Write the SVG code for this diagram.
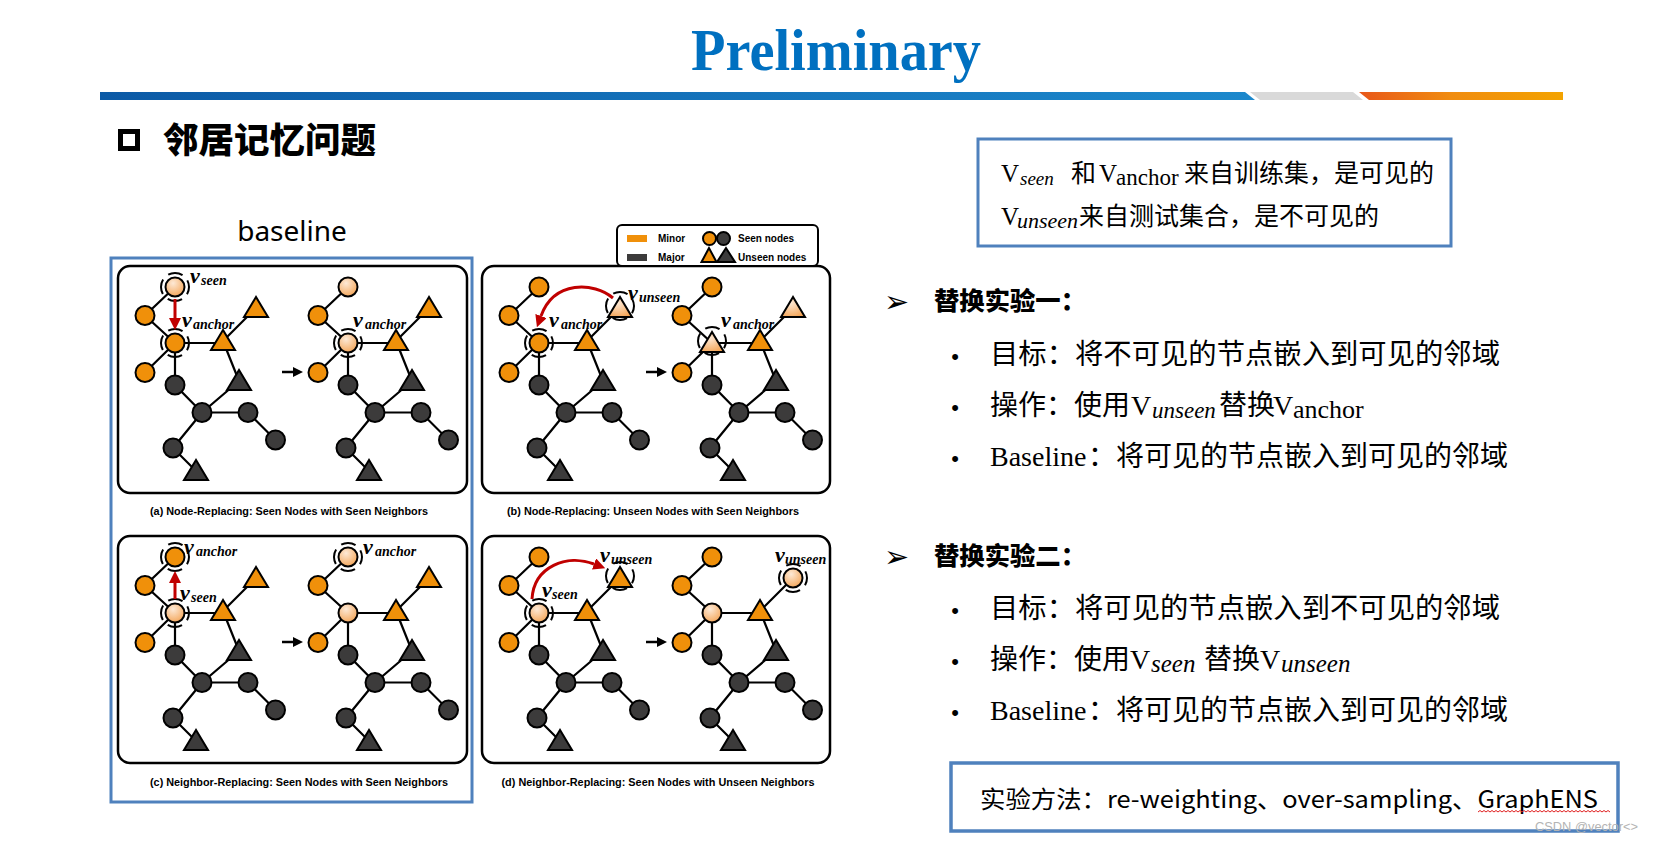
<svg xmlns="http://www.w3.org/2000/svg" width="1654" height="841" viewBox="0 0 1654 841">
<style>
.edge{stroke:#000;stroke-width:2.2;fill:none;stroke-linecap:round}
.o{fill:#f0900a;stroke:#000;stroke-width:2}
.d{fill:#3c3b3b;stroke:#000;stroke-width:2}
.lo{fill:url(#lg);stroke:#000;stroke-width:2}
.ring{fill:none;stroke:#000;stroke-width:2;stroke-dasharray:15 7;stroke-dashoffset:7.5}
.panel{fill:#fff;stroke:#000;stroke-width:2.5}
.mv{font-family:"Liberation Serif","DejaVu Serif",serif;font-style:italic;font-weight:bold;font-size:22px;fill:#000}
.ms{font-size:14px}
.cap{font-family:"Liberation Sans",Arial,sans-serif;font-weight:bold;font-size:10.5px;fill:#000}
.leg{font-family:"Liberation Sans",Arial,sans-serif;font-weight:bold;font-size:10px;fill:#000}
.cjk{font-family:"Noto Sans CJK SC","Noto Sans",sans-serif}
.ser{font-family:"Liberation Serif","Noto Sans CJK SC",serif}
.frame{fill:none;stroke:#4f81bd;stroke-width:3}
.red{stroke:#c00000;stroke-width:3;fill:none}
.blk{stroke:#000;stroke-width:2.5;fill:none}
.bul{font-family:"Liberation Sans",sans-serif;font-size:22px;fill:#000}
.arw{font-family:"DejaVu Sans",sans-serif;font-size:30px;fill:#000}
</style>
<defs>
<radialGradient id="lg" cx="0.4" cy="0.3" r="0.8"><stop offset="0" stop-color="#fde9d6"/><stop offset="1" stop-color="#f3a04e"/></radialGradient>
<linearGradient id="blueBar" x1="0" x2="1" y1="0" y2="0"><stop offset="0" stop-color="#0c5aa6"/><stop offset="1" stop-color="#1c88cc"/></linearGradient>
<linearGradient id="orangeBar" x1="0" x2="1" y1="0" y2="0"><stop offset="0" stop-color="#e8571a"/><stop offset="0.45" stop-color="#f08c10"/><stop offset="1" stop-color="#f3a300"/></linearGradient>
<marker id="rh" markerUnits="userSpaceOnUse" markerWidth="12" markerHeight="12" viewBox="0 0 10 10" refX="0" refY="5" orient="auto"><path d="M0,0 L10,5 L0,10 z" fill="#c00000"/></marker>
<marker id="bh" markerUnits="userSpaceOnUse" markerWidth="10" markerHeight="10" viewBox="0 0 10 10" refX="0" refY="5" orient="auto"><path d="M0,0 L10,5 L0,10 z" fill="#000"/></marker>
<polygon id="tri" points="0,-11 -12,9 12,9"/>
<g id="common">
<path class="edge" d="M57,21 L27,49.5 L57,77 L27,106.5 M57,77 L105,77 M105,75 L138,42 M105,75 L121,115 M57,77 L57,119 L84,146.5 L121,115 M84,146.5 L130,146.5 L157.5,174 M84,146.5 L55,182 L78,205"/>
<circle class="o" cx="27" cy="49.5" r="9.5"/>
<circle class="o" cx="27" cy="106.5" r="9.5"/>
<use href="#tri" class="o" x="105" y="75"/>
<use href="#tri" class="d" x="121" y="115"/>
<circle class="d" cx="57" cy="119" r="9.5"/>
<circle class="d" cx="84" cy="146.5" r="9.5"/>
<circle class="d" cx="130" cy="146.5" r="9.5"/>
<circle class="d" cx="157.5" cy="174" r="9.5"/>
<circle class="d" cx="55" cy="182" r="9.5"/>
<use href="#tri" class="d" x="78" y="205"/>
</g>
</defs>

<rect width="1654" height="841" fill="#fff"/>

<g id="header">
<text x="836" y="70" text-anchor="middle" font-family="Liberation Serif, serif" font-weight="bold" font-size="60" fill="#0070c0" textLength="290" lengthAdjust="spacingAndGlyphs">Preliminary</text>
<polygon points="100,92 1245,92 1255,100 100,100" fill="url(#blueBar)"/>
<polygon points="1250,92 1353,92 1363,100 1260,100" fill="#d9d9d9"/>
<polygon points="1359,92 1563,92 1563,100 1369,100" fill="url(#orangeBar)"/>
</g>

<g id="section-title">
<rect x="120.5" y="131.5" width="17" height="17" fill="#fff" stroke="#000" stroke-width="5"/>
<text class="cjk" x="163" y="153" font-size="35" font-weight="900" textLength="213" lengthAdjust="spacingAndGlyphs">邻居记忆问题</text>
</g>

<g id="baseline-label">
<text x="292" y="241" text-anchor="middle" font-family="Noto Sans, sans-serif" font-size="28" fill="#000">baseline</text>
<rect class="frame" x="111" y="258" width="361" height="544"/>
</g>

<g id="panel-a" transform="translate(118,266)">
<rect class="panel" x="0" y="0" width="349" height="227" rx="12"/>
<g id="a-left">
<use href="#common"/>
<circle class="lo" cx="57" cy="21" r="9.5"/><circle class="ring" cx="57" cy="21" r="14"/>
<circle class="o" cx="57" cy="77" r="9.5"/><circle class="ring" cx="57" cy="77" r="14"/>
<use href="#tri" class="o" x="138" y="42"/>
</g>
<g id="a-right" transform="translate(173,0)">
<use href="#common"/>
<circle class="lo" cx="57" cy="21" r="9.5"/>
<circle class="lo" cx="57" cy="77" r="9.5"/><circle class="ring" cx="57" cy="77" r="14"/>
<use href="#tri" class="o" x="138" y="42"/>
</g>
<text class="mv" x="72" y="17">v<tspan class="ms" x="83" y="19">seen</tspan></text>
<text class="mv" x="64" y="61">v<tspan class="ms" x="75" y="63">anchor</tspan></text>
<text class="mv" x="235" y="61">v<tspan class="ms" x="247" y="63">anchor</tspan></text>
</g>

<g id="panel-b" transform="translate(482,266)">
<rect class="panel" x="0" y="0" width="348" height="227" rx="12"/>
<g id="b-left">
<use href="#common"/>
<circle class="o" cx="57" cy="21" r="9.5"/>
<circle class="o" cx="57" cy="77" r="9.5"/><circle class="ring" cx="57" cy="77" r="14"/>
<use href="#tri" class="lo" x="138" y="42"/><circle class="ring" cx="138" cy="40" r="14"/>
</g>
<g id="b-right" transform="translate(173,0)">
<use href="#common"/>
<circle class="o" cx="57" cy="21" r="9.5"/>
<use href="#tri" class="lo" x="57" y="77"/><circle class="ring" cx="57" cy="75" r="14"/>
<use href="#tri" class="lo" x="138" y="42"/>
</g>
<text class="mv" x="146" y="34">v<tspan class="ms" x="157" y="36">unseen</tspan></text>
<text class="mv" x="67" y="61">v<tspan class="ms" x="79" y="63">anchor</tspan></text>
<text class="mv" x="239" y="61">v<tspan class="ms" x="251" y="63">anchor</tspan></text>
</g>

<g id="panel-c" transform="translate(118,536)">
<rect class="panel" x="0" y="0" width="349" height="227" rx="12"/>
<g id="c-left">
<use href="#common"/>
<circle class="o" cx="57" cy="21" r="9.5"/><circle class="ring" cx="57" cy="21" r="14"/>
<circle class="lo" cx="57" cy="77" r="9.5"/><circle class="ring" cx="57" cy="77" r="14"/>
<use href="#tri" class="o" x="138" y="42"/>
</g>
<g id="c-right" transform="translate(173,0)">
<use href="#common"/>
<circle class="lo" cx="57" cy="21" r="9.5"/><circle class="ring" cx="57" cy="21" r="14"/>
<circle class="lo" cx="57" cy="77" r="9.5"/>
<use href="#tri" class="o" x="138" y="42"/>
</g>
<text class="mv" x="66" y="18">v<tspan class="ms" x="78" y="20">anchor</tspan></text>
<text class="mv" x="62" y="64">v<tspan class="ms" x="73" y="66">seen</tspan></text>
<text class="mv" x="245" y="18">v<tspan class="ms" x="257" y="20">anchor</tspan></text>
</g>

<g id="panel-d" transform="translate(482,536)">
<rect class="panel" x="0" y="0" width="348" height="227" rx="12"/>
<g id="d-left">
<use href="#common"/>
<circle class="o" cx="57" cy="21" r="9.5"/>
<circle class="lo" cx="57" cy="77" r="9.5"/><circle class="ring" cx="57" cy="77" r="14"/>
<use href="#tri" class="o" x="138" y="42"/><circle class="ring" cx="138" cy="40" r="14"/>
</g>
<g id="d-right" transform="translate(173,0)">
<use href="#common"/>
<circle class="o" cx="57" cy="21" r="9.5"/>
<circle class="lo" cx="57" cy="77" r="9.5"/>
<circle class="lo" cx="138" cy="42" r="9.5"/><circle class="ring" cx="138" cy="42" r="14"/>
</g>
<text class="mv" x="118" y="26">v<tspan class="ms" x="129" y="28">unseen</tspan></text>
<text class="mv" x="60" y="61">v<tspan class="ms" x="70" y="63">seen</tspan></text>
<text class="mv" x="293" y="26">v<tspan class="ms" x="303" y="28">unseen</tspan></text>
</g>

<g id="legend">
<rect x="617" y="225" width="201" height="41" rx="5" fill="#fff" stroke="#000" stroke-width="2"/>
<rect x="627" y="235" width="20" height="7" fill="#f0900a"/>
<text class="leg" x="658" y="242">Minor</text>
<rect x="627" y="254" width="20" height="7" fill="#3c3b3b"/>
<text class="leg" x="658" y="261">Major</text>
<circle class="o" cx="709.5" cy="238.5" r="6.5"/>
<circle class="d" cx="723.5" cy="238.5" r="6.5"/>
<polygon class="o" points="709,248 701.5,262 716.5,262"/>
<polygon class="d" points="726,248 717,262 735,262"/>
<text class="leg" x="738" y="242">Seen nodes</text>
<text class="leg" x="738" y="261">Unseen nodes</text>
</g>

<g id="captions">
<text class="cap" x="289" y="515" text-anchor="middle" textLength="278" lengthAdjust="spacingAndGlyphs">(a) Node-Replacing: Seen Nodes with Seen Neighbors</text>
<text class="cap" x="653" y="515" text-anchor="middle" textLength="292" lengthAdjust="spacingAndGlyphs">(b) Node-Replacing: Unseen Nodes with Seen Neighbors</text>
<text class="cap" x="299" y="786" text-anchor="middle" textLength="298" lengthAdjust="spacingAndGlyphs">(c) Neighbor-Replacing: Seen Nodes with Seen Neighbors</text>
<text class="cap" x="658" y="786" text-anchor="middle" textLength="313" lengthAdjust="spacingAndGlyphs">(d) Neighbor-Replacing: Seen Nodes with Unseen Neighbors</text>
</g>

<g id="connectors">
<line class="red" x1="175" y1="299" x2="175" y2="318" marker-end="url(#rh)"/>
<path class="red" d="M613,298 C594,282 554,280 541,316" marker-end="url(#rh)"/>
<line class="red" x1="175" y1="599" x2="175" y2="583" marker-end="url(#rh)"/>
<path class="red" d="M532,599 C534,566 567,554 594,564" marker-end="url(#rh)"/>
<line class="blk" x1="282" y1="372" x2="293" y2="372" marker-end="url(#bh)"/>
<line class="blk" x1="646" y1="372" x2="657" y2="372" marker-end="url(#bh)"/>
<line class="blk" x1="282" y1="642" x2="293" y2="642" marker-end="url(#bh)"/>
<line class="blk" x1="646" y1="642" x2="657" y2="642" marker-end="url(#bh)"/>
</g>

<g id="note-box">
<rect class="frame" x="978" y="139" width="473" height="107"/>
<text y="182" font-size="25" fill="#000"><tspan class="ser" x="1001">V</tspan><tspan class="ser" font-style="italic" font-size="19" x="1020" y="185">seen</tspan><tspan class="cjk" x="1071" y="182">和</tspan><tspan class="ser" x="1099">V</tspan><tspan class="ser" font-size="23" x="1116" y="185">anchor</tspan><tspan class="cjk" x="1184" y="182">来自训练集，是可见的</tspan></text>
<text y="225" font-size="25" fill="#000"><tspan class="ser" x="1001">V</tspan><tspan class="ser" font-style="italic" font-size="22" x="1017" y="228">unseen</tspan><tspan class="cjk" x="1079" y="225">来自测试集合，是不可见的</tspan></text>
</g>

<g id="exp1">
<text class="arw" x="884" y="312">➢</text>
<text class="cjk" x="934" y="310" font-size="25" font-weight="900" textLength="152" lengthAdjust="spacingAndGlyphs">替换实验一：</text>
<text class="bul" x="955" y="364" text-anchor="middle">•</text>
<text class="cjk" x="990" y="364" font-size="28" textLength="510" lengthAdjust="spacingAndGlyphs">目标：将不可见的节点嵌入到可见的邻域</text>
<text class="bul" x="955" y="415" text-anchor="middle">•</text>
<text y="415" font-size="28" fill="#000"><tspan class="cjk" x="990">操作：使用</tspan><tspan class="ser" x="1131">V</tspan><tspan class="ser" font-style="italic" font-size="23" x="1152" y="418">unseen</tspan><tspan class="cjk" x="1219" y="415">替换</tspan><tspan class="ser" x="1273">V</tspan><tspan class="ser" font-size="26" x="1293" y="418">anchor</tspan></text>
<text class="bul" x="955" y="466" text-anchor="middle">•</text>
<text y="466" font-size="28" fill="#000"><tspan class="ser" x="990">Baseline</tspan><tspan class="cjk" x="1088">：将可见的节点嵌入到可见的邻域</tspan></text>
</g>

<g id="exp2">
<text class="arw" x="884" y="567">➢</text>
<text class="cjk" x="934" y="565" font-size="25" font-weight="900" textLength="152" lengthAdjust="spacingAndGlyphs">替换实验二：</text>
<text class="bul" x="955" y="618" text-anchor="middle">•</text>
<text class="cjk" x="990" y="618" font-size="28" textLength="510" lengthAdjust="spacingAndGlyphs">目标：将可见的节点嵌入到不可见的邻域</text>
<text class="bul" x="955" y="669" text-anchor="middle">•</text>
<text y="669" font-size="28" fill="#000"><tspan class="cjk" x="990">操作：使用</tspan><tspan class="ser" x="1130">V</tspan><tspan class="ser" font-style="italic" font-size="25" x="1151" y="672">seen</tspan><tspan class="cjk" x="1204" y="669">替换</tspan><tspan class="ser" x="1260">V</tspan><tspan class="ser" font-style="italic" font-size="25" x="1281" y="672">unseen</tspan></text>
<text class="bul" x="955" y="720" text-anchor="middle">•</text>
<text y="720" font-size="28" fill="#000"><tspan class="ser" x="990">Baseline</tspan><tspan class="cjk" x="1088">：将可见的节点嵌入到可见的邻域</tspan></text>
</g>

<g id="method-box">
<rect x="951" y="763" width="667" height="68" fill="none" stroke="#4f81bd" stroke-width="3.5"/>
<text class="cjk" x="980" y="808" font-size="24" fill="#000" textLength="618" lengthAdjust="spacingAndGlyphs">实验方法：re-weighting、over-sampling、GraphENS</text>
<path d="M1478,812 l2,-1.5 l2,1.5 l2,-1.5 l2,1.5 l2,-1.5 l2,1.5 l2,-1.5 l2,1.5 l2,-1.5 l2,1.5 l2,-1.5 l2,1.5 l2,-1.5 l2,1.5 l2,-1.5 l2,1.5 l2,-1.5 l2,1.5 l2,-1.5 l2,1.5 l2,-1.5 l2,1.5 l2,-1.5 l2,1.5 l2,-1.5 l2,1.5 l2,-1.5 l2,1.5 l2,-1.5 l2,1.5 l2,-1.5 l2,1.5 l2,-1.5 l2,1.5 l2,-1.5 l2,1.5 l2,-1.5 l2,1.5 l2,-1.5 l2,1.5 l2,-1.5 l2,1.5 l2,-1.5 l2,1.5 l2,-1.5 l2,1.5 l2,-1.5 l2,1.5 l2,-1.5 l2,1.5 l2,-1.5 l2,1.5 l2,-1.5 l2,1.5 l2,-1.5 l2,1.5 l2,-1.5 l2,1.5 l2,-1.5 l2,1.5 l2,-1.5 l2,1.5 l2,-1.5 l2,1.5 l2,-1.5 l2,1.5" fill="none" stroke="#e02020" stroke-width="1"/>
</g>

<text x="1535" y="831" font-family="Liberation Sans, sans-serif" font-size="13" fill="#b4b4b4" textLength="103" lengthAdjust="spacingAndGlyphs">CSDN @vector&lt;&gt;</text>
</svg>
